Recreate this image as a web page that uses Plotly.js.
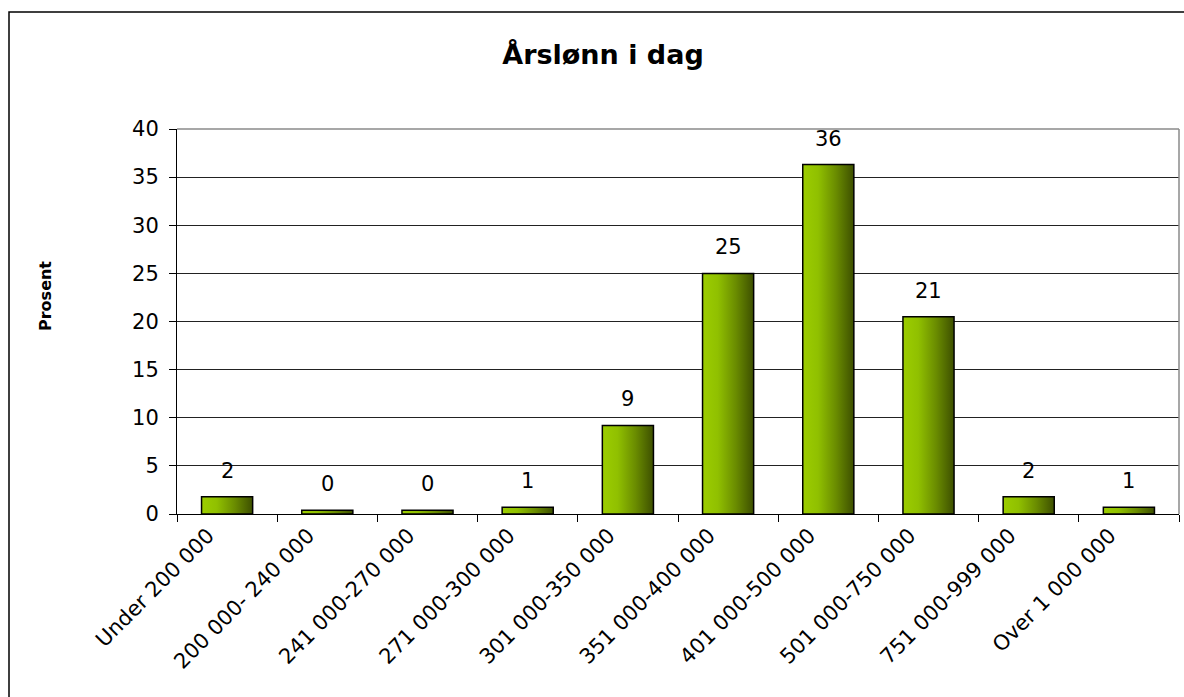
<!DOCTYPE html>
<html>
<head>
<meta charset="utf-8">
<script src="https://cdn.plot.ly/plotly-3.0.1.min.js"></script>
<style>
html, body { margin: 0; padding: 0; background: #fff; }
#chart { width: 1184px; height: 697px; }
</style>
</head>
<body>
<div id="chart"></div>
<script>
const categories = ['Under 200 000', '200 000- 240 000', '241 000-270 000', '271 000-300 000',
  '301 000-350 000', '351 000-400 000', '401 000-500 000', '501 000-750 000',
  '751 000-999 000', 'Over 1 000 000'];
const values = [1.8, 0.4, 0.4, 0.7, 9.2, 25.0, 36.3, 20.5, 1.8, 0.7];
const valueLabels = ['2', '0', '0', '1', '9', '25', '36', '21', '2', '1'];
const yTicks = [0, 5, 10, 15, 20, 25, 30, 35, 40];

const FONT = 'DejaVu Sans, Verdana, sans-serif';

const W = 1184, H = 697;
const mL = 177, mR = 5, mT = 129, mB = 183;
const pw = W - mL - mR, ph = H - mT - mB;
const px = x => (x - mL) / pw;
const py = y => 1 - (y - mT) / ph;

const trace = {
  type: 'bar',
  x: categories,
  y: values,
  marker: { color: '#8fbf00', line: { color: '#000', width: 1.5 } },
  hoverinfo: 'x+y'
};

const annotations = categories.map((c, i) => ({
  x: c, y: values[i], xref: 'x', yref: 'y',
  text: valueLabels[i], showarrow: false,
  yanchor: 'bottom', yshift: 12,
  font: { family: FONT, size: 21, color: '#000' }
}));
annotations.push({
  xref: 'paper', yref: 'paper', x: px(45), y: py(296),
  text: 'Prosent', textangle: -90, showarrow: false,
  xanchor: 'center', yanchor: 'middle',
  font: { family: FONT, size: 16, color: '#000', weight: 'bold' }
});

const layout = {
  width: W, height: H,
  margin: { l: mL, r: mR, t: mT, b: mB, pad: 0 },
  paper_bgcolor: '#fff', plot_bgcolor: '#fff',
  showlegend: false,
  bargap: 0.49,
  title: {
    text: 'Årslønn i dag',
    xref: 'container', yref: 'container',
    x: 603 / W, y: 1 - 55 / H, xanchor: 'center', yanchor: 'middle',
    font: { family: FONT, size: 27, color: '#000', weight: 'bold' }
  },
  xaxis: {
    type: 'category',
    tickangle: -45,
    tickson: 'boundaries',
    ticks: 'outside', ticklen: 7, tickcolor: '#000', tickwidth: 1,
    ticklabelshift: -19,
    showline: true, linecolor: '#000', linewidth: 1,
    showgrid: false, zeroline: false,
    tickfont: { family: FONT, size: 21, color: '#000' },
    automargin: false, fixedrange: true
  },
  yaxis: {
    range: [0, 40],
    tickvals: yTicks,
    ticktext: yTicks.map(String),
    ticks: 'outside', ticklen: 7, tickcolor: '#000', tickwidth: 1,
    ticklabelstandoff: 6,
    showline: true, linecolor: '#000', linewidth: 1,
    showgrid: true, gridcolor: '#222', gridwidth: 1,
    zeroline: false,
    tickfont: { family: FONT, size: 21, color: '#000' },
    automargin: false, fixedrange: true
  },
  annotations: annotations,
  shapes: [
    { type: 'line', xref: 'paper', yref: 'paper', x0: 0, x1: 1, y0: 1, y1: 1,
      line: { color: '#8a8a8a', width: 1.5 }, layer: 'above' },
    { type: 'line', xref: 'paper', yref: 'paper', x0: 1, x1: 1, y0: 0, y1: 1,
      line: { color: '#8a8a8a', width: 1.5 }, layer: 'above' },
    { type: 'rect', xref: 'paper', yref: 'paper', x0: px(9), x1: px(1200), y0: py(720), y1: py(12),
      line: { color: '#000', width: 1.5 }, fillcolor: 'rgba(0,0,0,0)', layer: 'above' }
  ]
};

Plotly.newPlot('chart', [trace], layout, { displayModeBar: false, staticPlot: true }).then(gd => {
  const svg = gd.querySelector('svg.main-svg');
  const ns = 'http://www.w3.org/2000/svg';
  let defs = svg.querySelector('defs');
  if (!defs) { defs = document.createElementNS(ns, 'defs'); svg.insertBefore(defs, svg.firstChild); }
  const grad = document.createElementNS(ns, 'linearGradient');
  grad.setAttribute('id', 'barGrad');
  grad.setAttribute('x1', '0'); grad.setAttribute('y1', '0');
  grad.setAttribute('x2', '1'); grad.setAttribute('y2', '0');
  [['0', '#9ccd00'], ['0.3', '#90c000'], ['0.65', '#6a8c00'], ['1', '#3d4f00']].forEach(([o, c]) => {
    const s = document.createElementNS(ns, 'stop');
    s.setAttribute('offset', o); s.setAttribute('stop-color', c);
    grad.appendChild(s);
  });
  defs.appendChild(grad);
  gd.querySelectorAll('.trace.bars .point path').forEach(p => {
    p.style.fill = 'url(#barGrad)';
  });
});
</script>
</body>
</html>
